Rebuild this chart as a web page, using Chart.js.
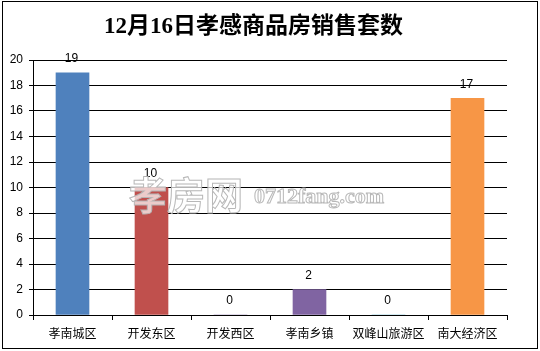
<!DOCTYPE html>
<html>
<head>
<meta charset="utf-8">
<script src="https://cdn.jsdelivr.net/npm/chart.js@4"></script>
<style>
  body { margin: 0; background: #fff; }
  #wrap { width: 540px; height: 351px; }
</style>
</head>
<body>
<div id="wrap"><canvas id="sales_canvas" width="540" height="351"></canvas></div>
<script>
// data
const areas = ["孝南城区", "开发东区", "开发西区", "孝南乡镇", "双峰山旅游区", "南大经济区"];
const sold = [19, 10, 0, 2, 0, 17];
const bar_colors = ["#4F81BD", "#C0504D", "#8064A2", "#8064A2", "#4BACC6", "#F79646"];
const title_text = "12月16日孝感商品房销售套数";
const watermark_big = "孝房网";
const watermark_small = "0712fang.com";

const cjk = "'Liberation Sans', 'Noto Sans CJK SC', sans-serif";

// value above each bar
const value_labels = {
  id: "value_labels",
  afterDatasetsDraw(chart) {
    const ctx = chart.ctx;
    const meta = chart.getDatasetMeta(0);
    ctx.save();
    ctx.font = "12px " + cjk;
    ctx.fillStyle = "#000";
    ctx.textAlign = "center";
    ctx.textBaseline = "middle";
    meta.data.forEach((bar, i) => {
      ctx.fillText(String(sold[i]), bar.x - 1, bar.y - 14);
    });
    ctx.restore();
  }
};

// outer frame + site watermark
const frame_and_mark = {
  id: "frame_and_mark",
  afterDraw(chart) {
    const ctx = chart.ctx;
    ctx.save();
    ctx.strokeStyle = "#000";
    ctx.lineWidth = 1;
    ctx.strokeRect(2.5, 1.5, 535, 347);

    ctx.textBaseline = "alphabetic";
    ctx.textAlign = "left";
    ctx.lineWidth = 1;
    ctx.strokeStyle = "rgba(180,180,180,0.95)";
    ctx.fillStyle = "rgba(255,255,255,0.7)";
    ctx.font = "bold 38px 'Noto Sans CJK SC', sans-serif";
    ctx.fillText(watermark_big, 129, 209);
    ctx.strokeText(watermark_big, 129, 209);
    ctx.font = "bold 22px 'Liberation Serif', serif";
    ctx.fillText(watermark_small, 254, 203);
    ctx.strokeText(watermark_small, 254, 203);
    ctx.restore();
  }
};

const ctx_1 = document.getElementById("sales_canvas");

new Chart(ctx_1, {
  type: "bar",
  data: {
    labels: areas,
    datasets: [{
      data: sold,
      backgroundColor: bar_colors,
      borderWidth: 0,
      barThickness: 33
    }]
  },
  options: {
    responsive: false,
    animation: false,
    events: [],
    layout: { padding: { left: 0, right: 33, top: 0, bottom: 0 } },
    plugins: {
      legend: { display: false },
      tooltip: { enabled: false },
      title: {
        display: true,
        text: title_text,
        color: "#000",
        font: { family: "'Liberation Serif', 'Noto Sans CJK SC', serif", size: 23, weight: "bold" },
        padding: { top: 13, bottom: 19.4 }
      }
    },
    scales: {
      x: {
        grid: { display: true, drawOnChartArea: false, color: "#000", tickLength: 5 },
        border: { color: "#000", width: 1 },
        ticks: { color: "#000", font: { family: cjk, size: 12 }, padding: 7, maxRotation: 0, autoSkip: false },
        afterFit(scale) { scale.height = 36; }
      },
      y: {
        min: 0,
        max: 20,
        grid: { color: "#000", tickLength: 4 },
        border: { color: "#000", width: 1 },
        ticks: { stepSize: 2, color: "#000", font: { family: cjk, size: 12 }, padding: 6 },
        afterFit(scale) { scale.width = 33; }
      }
    }
  },
  plugins: [value_labels, frame_and_mark]
});
</script>
</body>
</html>
